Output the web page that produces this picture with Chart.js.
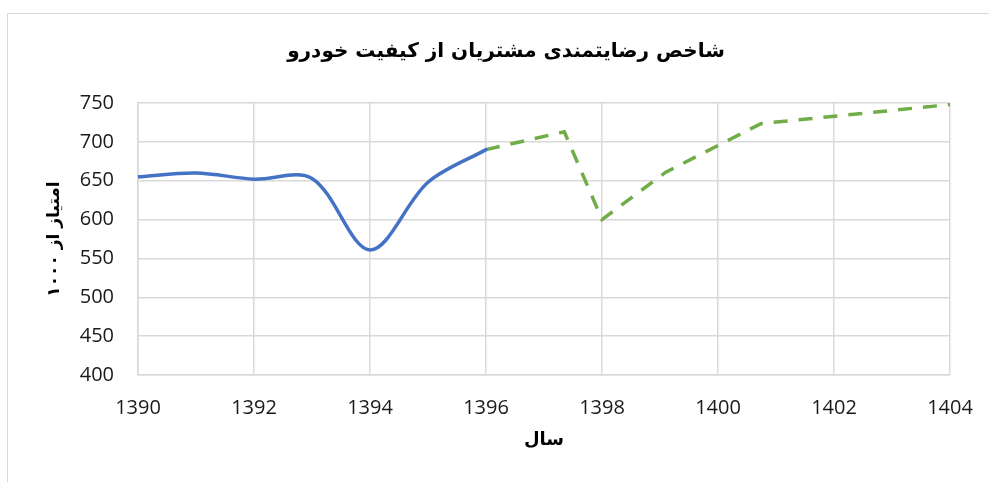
<!DOCTYPE html>
<html>
<head>
<meta charset="utf-8">
<script src="https://cdn.jsdelivr.net/npm/chart.js@4.4.1/dist/chart.umd.min.js"></script>
<style>
  html, body { margin: 0; padding: 0; background: #fff; overflow: hidden; }
  #frame { position: absolute; left: 7px; top: 13px; width: 1200px; height: 600px;
           border-left: 1.5px solid #d9d9d9; border-top: 1.5px solid #d9d9d9; box-sizing: border-box; }
  #c { position: absolute; left: 8px; top: 25px; }
</style>
</head>
<body>
<div id="frame"></div>
<canvas id="c" width="996" height="470"></canvas>
<script>
// Data
const actualYears  = [1390, 1391, 1392, 1393, 1394, 1395, 1396];
const actualValues = [655, 660, 652, 653, 561, 648, 690];
const forecastYears  = [1396, 1397.35, 1398, 1399.1, 1400.74, 1404];
const forecastValues = [690, 713, 600, 661, 723.5, 748];
const xTicks = [1390, 1392, 1394, 1396, 1398, 1400, 1402, 1404];
const yTicks = [400, 450, 500, 550, 600, 650, 700, 750];

const titleText = 'شاخص رضایتمندی مشتریان از کیفیت خودرو';
const xTitle = 'سال';
const yTitle = 'امتیاز از ۱۰۰۰';

const toPts = (xs, ys) => xs.map((x, i) => ({ x: x, y: ys[i] }));

const numFont = { family: '"Open Sans", "DejaVu Sans", sans-serif', size: 20 };
const faFamily = '"DejaVu Sans", sans-serif';

new Chart(document.getElementById('c'), {
  type: 'line',
  data: {
    datasets: [
      {
        label: 'actual',
        data: toPts(actualYears, actualValues),
        borderColor: '#4472C4',
        borderWidth: 3.5,
        tension: 0.33,
        pointRadius: 0,
        fill: false,
        borderCapStyle: 'round'
      },
      {
        label: 'forecast',
        data: toPts(forecastYears, forecastValues),
        borderColor: '#70AD47',
        borderWidth: 3.5,
        borderDash: [14, 11],
        borderCapStyle: 'butt',
        tension: 0,
        pointRadius: 0,
        fill: false
      }
    ]
  },
  options: {
    responsive: false,
    animation: false,
    events: [],
    layout: { padding: { left: 54, right: 54, top: 0, bottom: 20 } },
    plugins: {
      legend: { display: false },
      tooltip: { enabled: false },
      title: {
        display: true,
        text: titleText,
        color: '#000',
        font: { family: faFamily, weight: 'bold', size: 20 },
        padding: { top: 15, bottom: 39 }
      }
    },
    scales: {
      x: {
        type: 'linear',
        min: xTicks[0],
        max: xTicks[xTicks.length - 1],
        afterBuildTicks: (s) => { s.ticks = xTicks.map(v => ({ value: v })); },
        afterFit: (s) => { s.height = 100; },
        grid: { color: '#d9d9d9', lineWidth: 1.5, drawTicks: false },
        border: { color: '#d9d9d9', width: 1.5 },
        ticks: { color: '#1a1a1a', font: numFont, padding: 21, maxRotation: 0, autoSkip: false,
                 callback: (v) => String(v) },
        title: {
          display: true,
          text: xTitle,
          color: '#000',
          font: { family: faFamily, weight: 'bold', size: 18 },
          padding: { top: 0, bottom: 24 }
        }
      },
      y: {
        min: yTicks[0],
        max: yTicks[yTicks.length - 1],
        afterBuildTicks: (s) => { s.ticks = yTicks.map(v => ({ value: v })); },
        afterFit: (s) => { s.width = 76; },
        grid: { color: '#d9d9d9', lineWidth: 1.5, drawTicks: false },
        border: { color: '#d9d9d9', width: 1.5 },
        ticks: { color: '#1a1a1a', font: numFont, padding: 24 },
        title: {
          display: true,
          text: yTitle,
          color: '#000',
          font: { family: faFamily, weight: 'bold', size: 17 },
          padding: { top: -18, bottom: 0 }
        }
      }
    }
  }
});
</script>
</body>
</html>
